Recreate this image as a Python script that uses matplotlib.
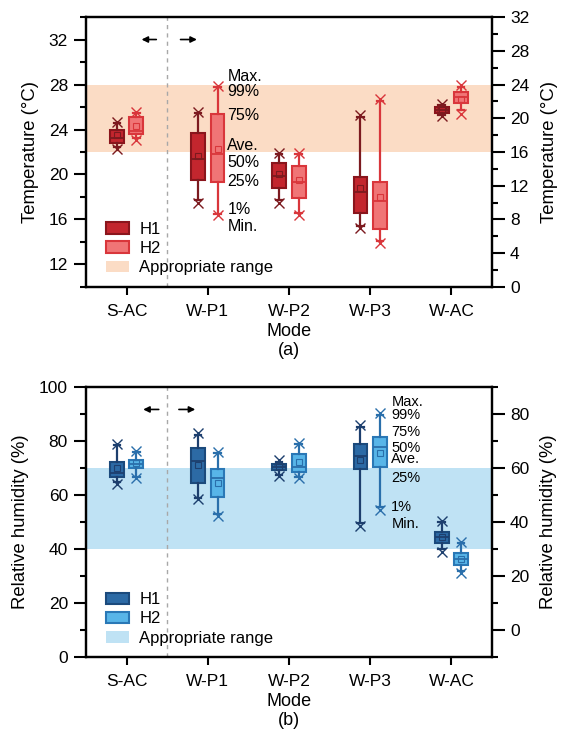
import matplotlib
matplotlib.use("Agg")
import matplotlib.pyplot as plt
from matplotlib.patches import Patch
from matplotlib.ticker import MultipleLocator

plt.rcParams['font.family'] = ['Liberation Sans', 'DejaVu Sans']
plt.rcParams['font.size'] = 12.5

modes = ['S-AC', 'W-P1', 'W-P2', 'W-P3', 'W-AC']

# temperature (°C): min, 1%, 25%, 50%, 75%, 99%, max, mean
t_h1_min = [22.3, 17.5, 17.5, 15.2, 25.2]
t_h1_p1 = [22.4, 17.7, 17.7, 15.4, 25.3]
t_h1_q1 = [22.8, 19.5, 18.8, 16.6, 25.5]
t_h1_med = [23.2, 21.35, 19.9, 18.4, 25.75]
t_h1_q3 = [23.95, 23.65, 21.0, 19.8, 26.0]
t_h1_p99 = [24.6, 25.5, 21.8, 25.1, 26.2]
t_h1_max = [24.7, 25.6, 21.9, 25.3, 26.3]
t_h1_mean = [23.5, 21.6, 20.0, 18.8, 25.75]

t_h2_min = [23.1, 16.4, 16.4, 13.9, 25.4]
t_h2_p1 = [23.2, 16.5, 16.6, 14.1, 25.7]
t_h2_q1 = [23.6, 19.35, 17.95, 15.15, 26.4]
t_h2_med = [23.9, 21.8, 19.3, 17.6, 26.85]
t_h2_q3 = [25.1, 25.4, 20.75, 19.3, 27.3]
t_h2_p99 = [25.5, 27.8, 21.8, 26.5, 27.8]
t_h2_max = [25.6, 27.9, 21.9, 26.7, 28.0]
t_h2_mean = [24.35, 22.25, 19.5, 18.0, 26.75]

# relative humidity (%)
rh_h1_min = [64.0, 58.5, 67.0, 48.5, 39.0]
rh_h1_p1 = [64.8, 59.0, 67.5, 49.5, 40.0]
rh_h1_q1 = [66.7, 64.3, 69.2, 69.5, 42.1]
rh_h1_med = [68.2, 72.7, 70.2, 74.4, 44.3]
rh_h1_q3 = [72.3, 77.5, 71.3, 78.8, 46.4]
rh_h1_p99 = [78.5, 82.3, 72.3, 85.0, 50.0]
rh_h1_max = [78.8, 82.8, 72.8, 85.8, 50.5]
rh_h1_mean = [69.8, 71.1, 70.4, 72.9, 44.6]

rh_h2_min = [66.1, 52.2, 66.1, 54.6, 31.3]
rh_h2_p1 = [66.6, 52.8, 66.8, 55.4, 32.0]
rh_h2_q1 = [69.8, 59.4, 68.6, 70.4, 34.1]
rh_h2_med = [71.4, 66.1, 70.4, 77.6, 36.2]
rh_h2_q3 = [72.9, 69.5, 75.1, 81.3, 38.7]
rh_h2_p99 = [75.8, 75.5, 78.8, 89.5, 42.2]
rh_h2_max = [76.3, 76.0, 79.3, 90.2, 42.7]
rh_h2_mean = [71.7, 64.3, 72.3, 75.6, 36.5]

t_range = (22, 28)
rh_range = (40, 70)

t_key_labels = ['Max.', '99%', '75%', 'Ave.', '50%', '25%', '1%', 'Min.']
t_key_y = [28.75, 27.35, 25.25, 22.55, 21.1, 19.4, 16.85, 15.35]
# "50%" and "Ave." sit very close together, so they share one text
rh_key_labels = ['Max.', '99%', '75%', '50%\nAve.', '25%', '1%', 'Min.']
rh_key_y = [94.5, 89.6, 83.4, 75.2, 66.1, 55.7, 49.3]


def make_stats(mn, p1, q1, med, q3, p99, mx, mean):
    stats = []
    for i in range(len(mn)):
        stats.append(dict(whislo=p1[i], q1=q1[i], med=med[i], q3=q3[i],
                          whishi=p99[i], mean=mean[i], fliers=[mn[i], mx[i]]))
    return stats


def draw_boxes(ax, stats, offset, face, edge, line):
    pos = [i + offset for i in range(len(stats))]
    ax.bxp(stats, positions=pos, widths=0.17, capwidths=0.08, patch_artist=True,
           showmeans=True, showfliers=True, manage_ticks=False,
           boxprops=dict(facecolor=face, edgecolor=edge, linewidth=1.5),
           medianprops=dict(color=line, linewidth=1.3),
           whiskerprops=dict(color=line, linewidth=1.6),
           capprops=dict(color=line, linewidth=1.6),
           meanprops=dict(marker='s', markerfacecolor='none', markeredgecolor=line,
                          markeredgewidth=0.8, markersize=5),
           flierprops=dict(marker='x', markeredgecolor=line, markersize=6.5,
                           markeredgewidth=1.0))


def style_axis(ax):
    for s in ax.spines.values():
        s.set_linewidth(1.6)
    ax.tick_params(which='major', length=9, width=1.5, direction='out', pad=4)
    ax.tick_params(which='minor', length=4.5, width=1.5, direction='out')
    ax.tick_params(axis='x', length=6, pad=6)


fig = plt.figure(figsize=(5.64, 7.4), dpi=100)
ax1 = fig.add_axes([0.1525, 0.6122, 0.7198, 0.3648])
ax2 = fig.add_axes([0.1525, 0.1118, 0.7198, 0.3656])

# ---- (a) temperature ----
ax1.axhspan(*t_range, color='#fbdcc5', lw=0, zorder=0)
ax1.axvline(0.5, color='#a8a8a8', ls=(0, (3, 3)), lw=1.0, zorder=1)
draw_boxes(ax1, make_stats(t_h1_min, t_h1_p1, t_h1_q1, t_h1_med, t_h1_q3, t_h1_p99, t_h1_max, t_h1_mean),
           -0.12, '#c3262e', '#8a151c', '#7c1a1f')
draw_boxes(ax1, make_stats(t_h2_min, t_h2_p1, t_h2_q1, t_h2_med, t_h2_q3, t_h2_p99, t_h2_max, t_h2_mean),
           0.12, '#f07576', '#d9363b', '#d9363b')
ax1.set_xlim(-0.5, 4.5)
ax1.set_ylim(10, 34)
ax1.set_yticks([12, 16, 20, 24, 28, 32])
ax1.yaxis.set_minor_locator(MultipleLocator(2))
ax1.set_xticks(range(5))
ax1.set_xticklabels(modes)
ax1.set_ylabel('Temperature (°C)', fontsize=13.3, labelpad=7)
ax1.set_xlabel('Mode\n(a)', fontsize=13, linespacing=1.15, labelpad=3)
style_axis(ax1)
ax1.annotate('', xy=(0.15, 32), xytext=(0.40, 32),
             arrowprops=dict(arrowstyle='-|>', color='black', lw=1.2, mutation_scale=9))
ax1.annotate('', xy=(0.90, 32), xytext=(0.63, 32),
             arrowprops=dict(arrowstyle='-|>', color='black', lw=1.2, mutation_scale=9))
for lab, yy in zip(t_key_labels, t_key_y):
    ax1.text(1.24, yy, lab, fontsize=11.5, va='center', ha='left')

ax1r = ax1.twinx()
ax1r.set_ylim(0, 32)
ax1r.set_yticks(range(0, 33, 4))
ax1r.yaxis.set_minor_locator(MultipleLocator(2))
ax1r.set_ylabel('Temperature (°C)', fontsize=13.3, labelpad=8)
style_axis(ax1r)

h = [Patch(facecolor='#c3262e', edgecolor='#8a151c', lw=1.5),
     Patch(facecolor='#f07576', edgecolor='#d9363b', lw=1.5),
     Patch(facecolor='#fbdcc5', edgecolor='none')]
ax1.legend(h, ['H1', 'H2', 'Appropriate range'], loc='lower left', bbox_to_anchor=(0.02, 0.0),
           frameon=False, fontsize=12, handlelength=1.4, handleheight=0.7, labelspacing=0.25,
           handletextpad=0.6, borderaxespad=0.3)

# ---- (b) relative humidity ----
ax2.axhspan(*rh_range, color='#bfe2f4', lw=0, zorder=0)
ax2.axvline(0.5, color='#a8a8a8', ls=(0, (3, 3)), lw=1.0, zorder=1)
draw_boxes(ax2, make_stats(rh_h1_min, rh_h1_p1, rh_h1_q1, rh_h1_med, rh_h1_q3, rh_h1_p99, rh_h1_max, rh_h1_mean),
           -0.12, '#2c6aa5', '#1b4a7c', '#1d3f6e')
draw_boxes(ax2, make_stats(rh_h2_min, rh_h2_p1, rh_h2_q1, rh_h2_med, rh_h2_q3, rh_h2_p99, rh_h2_max, rh_h2_mean),
           0.12, '#58b5e8', '#2a78b6', '#2a6fab')
ax2.set_xlim(-0.5, 4.5)
ax2.set_ylim(0, 100)
ax2.set_yticks(range(0, 101, 20))
ax2.yaxis.set_minor_locator(MultipleLocator(10))
ax2.set_xticks(range(5))
ax2.set_xticklabels(modes)
ax2.set_ylabel('Relative humidity (%)', fontsize=13.3, labelpad=7)
ax2.set_xlabel('Mode\n(b)', fontsize=13, linespacing=1.15, labelpad=3)
style_axis(ax2)
ax2.annotate('', xy=(0.17, 91.6), xytext=(0.43, 91.6),
             arrowprops=dict(arrowstyle='-|>', color='black', lw=1.2, mutation_scale=9))
ax2.annotate('', xy=(0.88, 91.6), xytext=(0.61, 91.6),
             arrowprops=dict(arrowstyle='-|>', color='black', lw=1.2, mutation_scale=9))
for lab, yy in zip(rh_key_labels, rh_key_y):
    ax2.text(3.26, yy, lab, fontsize=10.5, va='center', ha='left', linespacing=0.75)

ax2r = ax2.twinx()
ax2r.set_ylim(-10, 90)
ax2r.set_yticks(range(0, 81, 20))
ax2r.yaxis.set_minor_locator(MultipleLocator(10))
ax2r.set_ylabel('Relative humidity (%)', fontsize=13.3, labelpad=8)
style_axis(ax2r)

h2 = [Patch(facecolor='#2c6aa5', edgecolor='#1b4a7c', lw=1.5),
      Patch(facecolor='#58b5e8', edgecolor='#2a78b6', lw=1.5),
      Patch(facecolor='#bfe2f4', edgecolor='none')]
ax2.legend(h2, ['H1', 'H2', 'Appropriate range'], loc='lower left', bbox_to_anchor=(0.02, 0.0),
           frameon=False, fontsize=12, handlelength=1.4, handleheight=0.7, labelspacing=0.25,
           handletextpad=0.6, borderaxespad=0.3)

fig.savefig('out.png', dpi=100)
